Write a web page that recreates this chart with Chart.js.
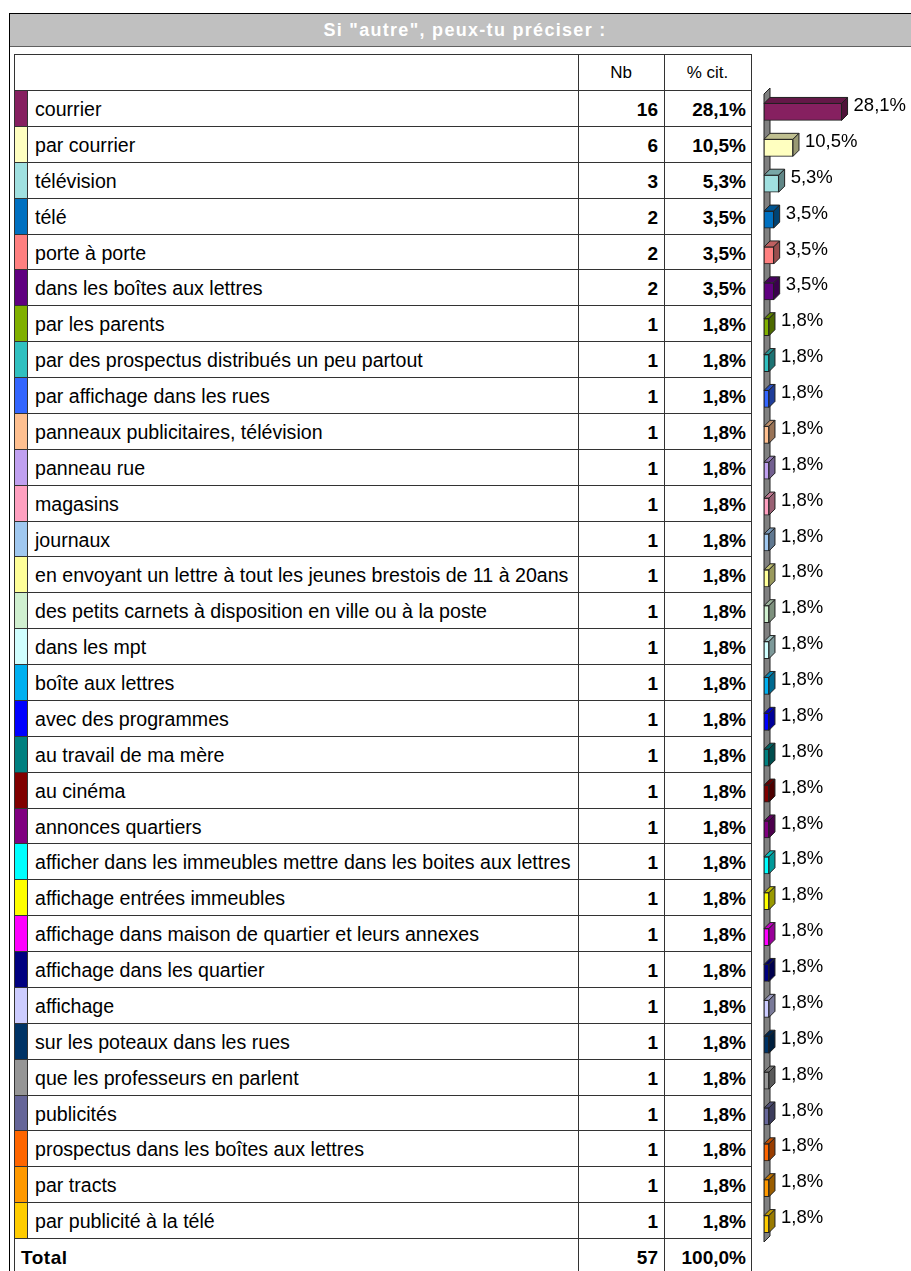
<!DOCTYPE html>
<html>
<head>
<meta charset="utf-8">
<script src="https://cdn.jsdelivr.net/npm/chart.js@4.4.1/dist/chart.umd.min.js"></script>
<style>
  html, body { margin: 0; padding: 0; background: #fff; width: 911px; height: 1271px; overflow: hidden; }
  body { position: relative; font-family: "Liberation Sans", Arial, sans-serif; color: #000; }
  .abs { position: absolute; }
  #frameTop { left: 9px; top: 13px; width: 902px; height: 1px; background: #000; }
  #frameLeft { left: 9px; top: 13px; width: 1px; height: 1260px; background: #000; }
  #band { left: 10px; top: 14px; width: 901px; height: 32px; background: #c0c0c0; border-bottom: 1px solid #606060; }
  #title { left: 10px; top: 14px; width: 910px; height: 32px; line-height: 32px; text-align: center;
           color: #fff; font-weight: bold; font-size: 18px; letter-spacing: 1.3px; }
  .hline { height: 1px; background: #333; left: 14px; width: 738px; }
  .vline { width: 1px; background: #333; top: 54px; height: 1220px; }
  .cell { height: 36px; line-height: 37px; font-size: 19.6px; white-space: nowrap; }
  .num { font-weight: bold; text-align: right; font-size: 19px; }
  .strip { left: 15px; width: 12px; border-right: 1px solid #333; }
  #bars { left: 752px; top: 54px; }
</style>
</head>
<body>
<div id="frameTop" class="abs"></div>
<div id="frameLeft" class="abs"></div>
<div id="band" class="abs"></div>
<div id="title" class="abs">Si "autre", peux-tu préciser :</div>
<div id="table"></div>
<canvas id="bars" class="abs" width="159" height="1217"></canvas>

<script>
// answers, counts and share of citations, in table order
const labels = [
  'courrier', 'par courrier', 'télévision', 'télé', 'porte à porte',
  'dans les boîtes aux lettres', 'par les parents',
  'par des prospectus distribués un peu partout', 'par affichage dans les rues',
  'panneaux publicitaires, télévision', 'panneau rue', 'magasins', 'journaux',
  'en envoyant un lettre à tout les jeunes brestois de 11 à 20ans',
  'des petits carnets à disposition en ville ou à la poste', 'dans les mpt',
  'boîte aux lettres', 'avec des programmes', 'au travail de ma mère', 'au cinéma',
  'annonces quartiers', 'afficher dans les immeubles mettre dans les boites aux lettres',
  'affichage entrées immeubles', 'affichage dans maison de quartier et leurs annexes',
  'affichage dans les quartier', 'affichage', 'sur les poteaux dans les rues',
  'que les professeurs en parlent', 'publicités', 'prospectus dans les boîtes aux lettres',
  'par tracts', 'par publicité à la télé'
];
const counts = [16, 6, 3, 2, 2, 2, 1, 1, 1, 1, 1, 1, 1, 1, 1, 1,
                1, 1, 1, 1, 1, 1, 1, 1, 1, 1, 1, 1, 1, 1, 1, 1];
const percents = [28.1, 10.5, 5.3, 3.5, 3.5, 3.5, 1.8, 1.8, 1.8, 1.8, 1.8, 1.8, 1.8, 1.8, 1.8, 1.8,
                  1.8, 1.8, 1.8, 1.8, 1.8, 1.8, 1.8, 1.8, 1.8, 1.8, 1.8, 1.8, 1.8, 1.8, 1.8, 1.8];
const colors = [
  '#862060', '#ffffc0', '#a0e0e0', '#0070c0', '#ff8080', '#600080', '#80b000', '#30c0c0',
  '#3366ff', '#ffc090', '#c0a0f0', '#ffa0c0', '#a0c8f0', '#ffff99', '#d0f0d0', '#d0ffff',
  '#00b0f0', '#0000ff', '#008080', '#800000', '#800080', '#00ffff', '#ffff00', '#ff00ff',
  '#000080', '#ccccff', '#003366', '#969696', '#666699', '#ff6600', '#ff9900', '#ffcc00'
];
const total = { label: 'Total', count: 57, percent: 100.0 };

const ROW_TOP = 90;
const ROW_H = 35.875;
const DX = 6, DY = 6;   // 3D depth of the bars

const fmt = v => v.toFixed(1).replace('.', ',') + '%';

// ── Table (plain positioned divs) ───────────────────
function el(cls, style, text) {
  const d = document.createElement('div');
  d.className = 'abs ' + cls;
  Object.assign(d.style, style);
  if (text !== undefined) d.textContent = text;
  document.getElementById('table').appendChild(d);
  return d;
}

function buildTable() {
  // header row
  el('hline', { top: '54px' });
  el('cell', { left: '578px', width: '86px', top: '54px', textAlign: 'center', fontSize: '17px' }, 'Nb');
  el('cell', { left: '664px', width: '87px', top: '54px', textAlign: 'center', fontSize: '17px' }, '% cit.');

  labels.forEach((lab, i) => {
    const top = Math.round(ROW_TOP + i * ROW_H);
    const next = Math.round(ROW_TOP + (i + 1) * ROW_H);
    el('hline', { top: top + 'px' });
    el('strip', { top: (top + 1) + 'px', height: (next - top - 1) + 'px', background: colors[i] });
    el('cell', { left: '35px', top: (top + 1) + 'px' }, lab);
    el('cell num', { left: '578px', width: '80px', top: (top + 1) + 'px' }, String(counts[i]));
    el('cell num', { left: '664px', width: '82px', top: (top + 1) + 'px' }, fmt(percents[i]));
  });

  const tTop = Math.round(ROW_TOP + labels.length * ROW_H);
  el('hline', { top: tTop + 'px' });
  el('cell num', { left: '21px', top: (tTop + 1) + 'px', textAlign: 'left', letterSpacing: '0.5px' }, total.label);
  el('cell num', { left: '578px', width: '80px', top: (tTop + 1) + 'px' }, String(total.count));
  el('cell num', { left: '664px', width: '82px', top: (tTop + 1) + 'px' }, fmt(total.percent));

  [14, 578, 664, 751].forEach(x => el('vline', { left: x + 'px' }));
}

// ── 3D look for the bars ─────────────────────────────
function shade(hex, f) {
  const n = parseInt(hex.slice(1), 16);
  const r = Math.round(((n >> 16) & 255) * f);
  const g = Math.round(((n >> 8) & 255) * f);
  const b = Math.round((n & 255) * f);
  return `rgb(${r},${g},${b})`;
}

function poly(ctx, pts, fill) {
  ctx.beginPath();
  ctx.moveTo(pts[0][0], pts[0][1]);
  for (let k = 1; k < pts.length; k++) ctx.lineTo(pts[k][0], pts[k][1]);
  ctx.closePath();
  ctx.fillStyle = fill;
  ctx.fill();
  ctx.stroke();
}

const bar3d = {
  id: 'bar3d',
  beforeDatasetsDraw(chart) {
    // grey side wall at zero
    const { ctx, chartArea: a, scales: { x } } = chart;
    const x0 = x.getPixelForValue(0);
    ctx.save();
    ctx.strokeStyle = '#202020';
    ctx.lineWidth = 1;
    poly(ctx, [[x0, a.top], [x0 + DX, a.top - DY], [x0 + DX, a.bottom - DY], [x0, a.bottom]], '#808080');
    ctx.restore();
  },
  afterDatasetsDraw(chart) {
    const ctx = chart.ctx;
    ctx.save();
    ctx.strokeStyle = '#202020';
    ctx.lineWidth = 1;
    ctx.font = '18.5px "Liberation Sans", Arial, sans-serif';
    ctx.textBaseline = 'middle';
    chart.getDatasetMeta(0).data.forEach((bar, i) => {
      const { x, y, base, height } = bar.getProps(['x', 'y', 'base', 'height'], true);
      const t = y - height / 2, b = y + height / 2;
      poly(ctx, [[base, t], [x, t], [x + DX, t - DY], [base + DX, t - DY]], shade(colors[i], 0.75));
      poly(ctx, [[x, t], [x + DX, t - DY], [x + DX, b - DY], [x, b]], shade(colors[i], 0.6));
      ctx.fillStyle = '#000';
      ctx.fillText(fmt(percents[i]), x + DX + 6, y - 6);
    });
    ctx.restore();
  }
};

buildTable();

new Chart(document.getElementById('bars'), {
  type: 'bar',
  data: {
    labels,
    datasets: [{
      data: percents,
      backgroundColor: colors,
      borderColor: '#202020',
      borderWidth: 1,
      borderSkipped: false,
      barThickness: 17,
    }]
  },
  options: {
    indexAxis: 'y',
    responsive: false,
    animation: false,
    layout: { padding: { left: 12, right: 9, top: 40, bottom: 29 } },
    plugins: { legend: { display: false }, tooltip: { enabled: false } },
    scales: {
      x: { display: false, min: 0, max: 50 },
      y: { display: false, offset: true }
    }
  },
  plugins: [bar3d]
});
</script>
</body>
</html>
